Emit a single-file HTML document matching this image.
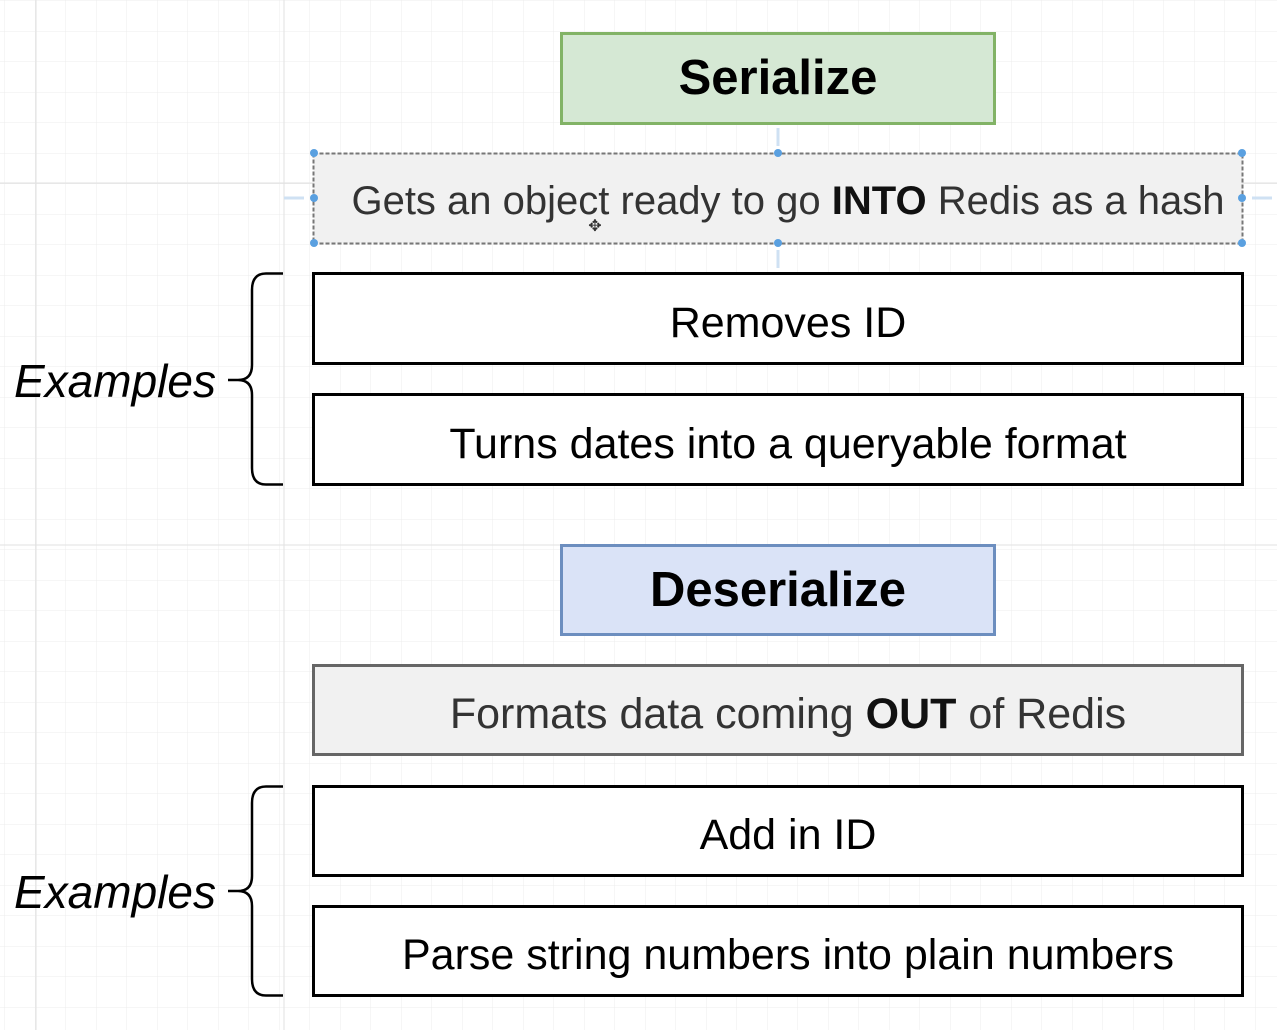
<!DOCTYPE html>
<html><head><meta charset="utf-8"><style>
html,body{margin:0;padding:0;background:#fff;}
svg{display:block;font-family:"Liberation Sans",Arial,sans-serif;}
</style></head><body>
<svg width="1277" height="1030" viewBox="0 0 1277 1030" xmlns="http://www.w3.org/2000/svg">
<defs>
<pattern id="g" width="30.5" height="30.5" patternUnits="userSpaceOnUse" x="5" y="1">
<path d="M30.5 0V30.5M0 30.5H30.5" stroke="#ececec" stroke-width="1" fill="none"/>
</pattern>
</defs>
<rect width="1277" height="1030" fill="url(#g)"/>
<line x1="36" y1="0" x2="36" y2="1030" stroke="#e2e2e2"/>
<line x1="284" y1="0" x2="284" y2="1030" stroke="#e2e2e2"/>
<line x1="0" y1="183" x2="1277" y2="183" stroke="#e2e2e2"/>
<line x1="0" y1="545" x2="1277" y2="545" stroke="#e2e2e2"/>

<rect x="561.5" y="33.5" width="433" height="90" fill="#d5e8d4" stroke="#82b366" stroke-width="3"/>
<text x="778" y="94" text-anchor="middle" font-size="49" font-weight="bold" fill="#000">Serialize</text>

<rect x="313.5" y="153.5" width="929" height="90" fill="#f1f1f1" stroke="#777" stroke-width="2" stroke-dasharray="4,2"/>
<text x="788" y="214" text-anchor="middle" font-size="40" fill="#333">Gets an object ready to go <tspan font-weight="bold" fill="#111">INTO</tspan> Redis as a hash</text>
<g fill="#5aa0e0">
<circle cx="314" cy="153" r="4"/><circle cx="778" cy="153" r="4"/><circle cx="1242" cy="153" r="4"/>
<circle cx="314" cy="198" r="4"/><circle cx="1242" cy="198" r="4"/>
<circle cx="314" cy="243" r="4"/><circle cx="778" cy="243" r="4"/><circle cx="1242" cy="243" r="4"/>
</g>
<g stroke="#cfe1f3" stroke-width="3" fill="none">
<line x1="778" y1="128" x2="778" y2="146"/><line x1="778" y1="250" x2="778" y2="268"/>
<line x1="284" y1="198" x2="304" y2="198"/><line x1="1252" y1="198" x2="1272" y2="198"/>
</g>
<text x="595" y="231" text-anchor="middle" font-size="16" fill="#333">✥</text>

<rect x="313.5" y="273.5" width="929" height="90" fill="#fff" stroke="#000" stroke-width="3"/>
<text x="788" y="337" text-anchor="middle" font-size="43" fill="#000">Removes ID</text>
<rect x="313.5" y="394.5" width="929" height="90" fill="#fff" stroke="#000" stroke-width="3"/>
<text x="788" y="458" text-anchor="middle" font-size="43" fill="#000">Turns dates into a queryable format</text>

<path d="M283 273.5 H266 Q252 273.5 252 290 V365 Q252 380 238 380 H228 M238 380 Q252 380 252 395 V468 Q252 484.5 266 484.5 H283" fill="none" stroke="#000" stroke-width="2.5"/>
<text x="14" y="397" font-size="46" font-style="italic" fill="#000">Examples</text>

<rect x="561.5" y="545.5" width="433" height="89" fill="#dae3f7" stroke="#6c8ebf" stroke-width="3"/>
<text x="778" y="606" text-anchor="middle" font-size="49" font-weight="bold" fill="#000">Deserialize</text>

<rect x="313.5" y="665.5" width="929" height="89" fill="#f1f1f1" stroke="#666" stroke-width="3"/>
<text x="788" y="728" text-anchor="middle" font-size="43" fill="#333">Formats data coming <tspan font-weight="bold" fill="#111">OUT</tspan> of Redis</text>

<rect x="313.5" y="786.5" width="929" height="89" fill="#fff" stroke="#000" stroke-width="3"/>
<text x="788" y="849" text-anchor="middle" font-size="43" fill="#000">Add in ID</text>
<rect x="313.5" y="906.5" width="929" height="89" fill="#fff" stroke="#000" stroke-width="3"/>
<text x="788" y="969" text-anchor="middle" font-size="43" fill="#000">Parse string numbers into plain numbers</text>

<path d="M283 786.5 H266 Q252 786.5 252 803 V876 Q252 891 238 891 H228 M238 891 Q252 891 252 906 V979 Q252 995.5 266 995.5 H283" fill="none" stroke="#000" stroke-width="2.5"/>
<text x="14" y="908" font-size="46" font-style="italic" fill="#000">Examples</text>
</svg>
</body></html>
